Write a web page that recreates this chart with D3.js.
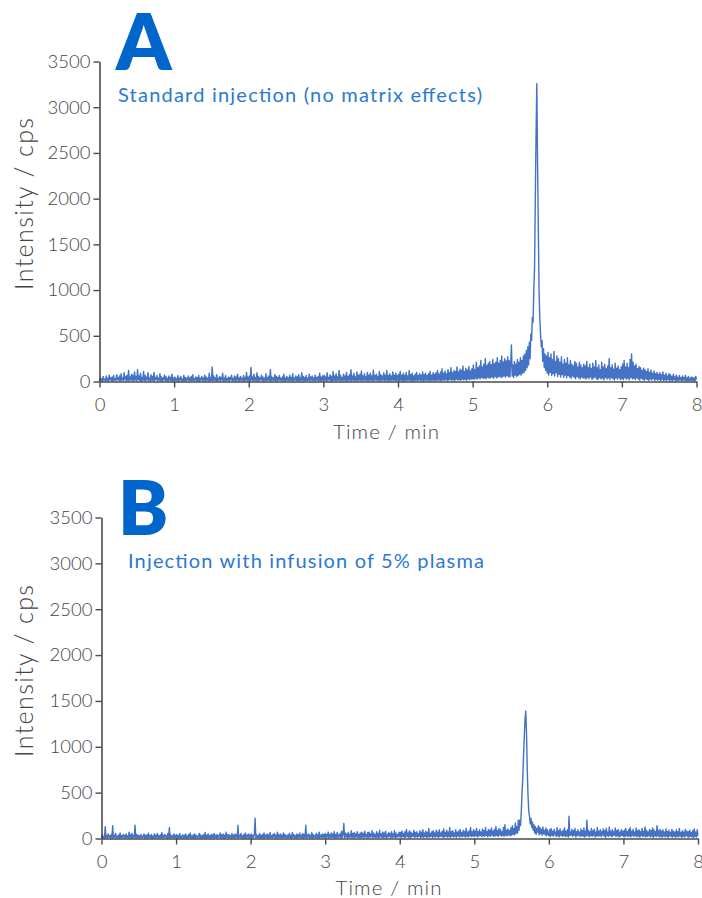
<!DOCTYPE html>
<html>
<head>
<meta charset="utf-8">
<script src="https://cdn.jsdelivr.net/npm/d3@7"></script>
<style>
  body { margin: 0; background: #ffffff; }
  svg text { font-family: "Lato", "Open Sans", sans-serif; }
</style>
</head>
<body>
<svg id="chart" width="702" height="898"></svg>
<script>
// Chromatogram sampling grid (minutes)
const timeStart = 0;
const timeStep = 0.01;

const xTickValues = [0, 1, 2, 3, 4, 5, 6, 7, 8];
const yTickValues = [0, 500, 1000, 1500, 2000, 2500, 3000, 3500];

const panelLetters = ["A", "B"];
const panelCaptions = [
  "Standard injection (no matrix effects)",
  "Injection with infusion of 5% plasma"
];
const xTitle = "Time / min";
const yTitle = "Intensity / cps";

// Intensity (cps), one value every 0.01 min from 0 to 8 min (50 values per row = 0.5 min)
const intensityA = [
  5,45,10,30,0,55,15,25,8,60, 12,35,5,70,18,40,10,50,3,65, 15,30,8,75,20,45,12,60,5,85, 15,40,10,95,20,55,8,70,14,120, 10,50,18,80,6,65,12,105,15,55,
  8,130,20,60,10,90,5,45,15,110, 12,70,6,50,18,95,10,40,4,75, 16,55,8,100,12,45,20,65,6,35, 14,85,10,50,5,40,18,70,9,55, 12,35,6,60,15,45,8,80,11,40,
  5,50,14,30,8,65,3,40,16,55, 10,25,6,70,12,45,4,35,18,60, 9,40,5,55,13,75,7,30,15,50, 5,45,10,65,3,35,17,55,8,40, 12,70,6,50,14,35,9,90,5,45,
  12,160,6,60,15,40,8,75,4,35, 14,55,9,45,16,90,5,40,11,65, 7,30,13,50,6,45,18,70,8,35, 12,60,4,50,15,80,9,40,6,55, 14,35,10,65,5,45,16,100,8,50,
  10,60,5,155,15,50,8,80,12,45, 6,95,14,55,4,40,18,70,9,50, 5,35,13,85,7,45,16,60,10,130, 6,50,15,40,8,75,12,55,5,45, 17,65,9,35,14,50,6,80,11,40,
  7,55,15,40,5,70,12,45,9,85, 4,35,16,60,10,50,6,75,13,40, 8,95,15,55,5,45,11,65,7,35, 14,80,9,50,16,60,6,40,12,70, 8,45,15,55,5,90,10,50,13,60,
  8,70,14,50,6,95,12,45,16,75, 9,55,5,110,13,60,10,85,7,50, 15,120,9,65,12,45,6,80,14,60, 10,100,5,55,17,75,8,130,12,60, 15,90,9,50,13,105,7,70,16,80,
  10,115,14,60,8,85,16,55,11,100, 6,70,15,90,9,60,13,125,7,65, 18,80,10,55,14,110,8,75,12,60, 16,95,9,70,15,120,11,65,7,85, 14,60,10,105,17,70,8,90,13,65,
  12,80,7,110,15,65,10,90,6,70, 14,100,9,60,16,120,11,75,8,90, 13,60,7,80,15,100,10,65,18,85, 9,70,14,105,6,75,12,90,16,65, 8,85,13,110,10,70,15,95,9,80,
  14,95,10,120,18,80,12,105,8,140, 16,90,11,115,20,85,9,130,15,100, 22,150,13,95,18,120,10,110,24,160, 15,105,20,135,12,120,26,170,18,110, 22,145,14,125,28,165,20,115,25,140,
  30,180,22,130,35,210,25,150,40,170, 28,230,45,160,32,190,38,250,30,175, 48,200,35,220,42,185,50,240,36,195, 55,210,40,260,46,200,58,230,44,280, 50,215,60,250,48,225,62,270,52,230,
  50,200,400,60,180,45,220,70,190,55, 240,65,210,80,260,70,230,90,280,100, 300,120,340,150,380,180,430,250,520,450, 700,650,1000,1250,2000,2700,3260,2400,1700,1000, 700,520,380,450,220,360,150,300,120,280,
  90,320,70,260,100,300,65,240,85,330, 60,220,95,280,55,250,80,210,50,270, 75,190,45,240,70,200,40,260,65,180, 50,230,35,190,60,170,45,220,30,200, 55,160,40,210,28,180,50,150,35,190,
  40,170,25,220,45,150,30,190,50,140, 22,200,38,160,48,230,30,150,20,180, 42,130,28,210,35,160,18,190,45,140, 26,170,40,250,20,150,44,180,30,135, 16,200,38,145,25,170,42,130,20,160,
  30,190,20,230,40,160,25,200,35,150, 18,240,45,300,28,210,35,170,22,190, 40,140,26,165,15,150,36,120,24,145, 12,130,30,110,20,140,10,100,28,125, 16,90,32,115,12,85,26,100,14,80,
  22,95,10,75,26,105,8,70,18,90, 12,60,24,85,6,75,16,55,10,80, 20,50,5,70,14,45,8,65,18,40, 6,60,12,45,16,70,4,40,10,55, 7,35,14,50,5,45,10,40,4,55,
  20
];

const intensityB = [
  5,40,10,25,3,130,12,35,6,50, 15,30,4,45,10,140,8,35,14,55, 5,25,12,40,3,60,10,30,7,45, 15,35,4,50,11,28,6,70,13,40, 5,55,9,30,14,145,6,45,10,35,
  4,30,12,45,6,25,15,50,3,35, 10,40,5,60,13,30,7,45,2,25, 11,50,6,35,14,55,4,30,9,40, 5,65,12,35,6,45,15,30,3,55, 10,120,5,40,13,30,7,50,4,35,
  12,45,5,30,9,55,3,25,14,40, 6,35,11,50,4,28,8,45,13,60, 5,30,10,40,3,50,12,35,7,25, 15,55,4,40,9,30,6,45,11,65, 3,35,8,50,12,30,5,45,10,40,
  6,55,13,35,4,45,9,30,15,60, 5,40,11,50,3,35,8,70,12,40, 6,45,14,30,4,55,10,35,7,50, 12,40,5,145,9,35,13,55,6,30, 11,45,4,60,8,35,14,50,5,40,
  9,50,5,35,12,45,220,8,40,14, 30,6,55,11,35,4,45,10,60,7, 35,13,50,5,40,9,65,12,30,6, 45,15,55,4,35,10,70,7,40,13, 50,5,35,11,60,8,45,14,30,6,
  40,12,55,5,35,9,65,13,45,6, 30,11,50,4,40,14,60,8,35,10, 55,5,45,12,145,7,40,15,50,6, 35,10,65,4,45,13,30,8,55,11, 40,5,70,9,35,14,50,6,45,12,
  55,8,45,15,70,6,40,12,60,10, 50,14,75,5,45,11,65,9,40,16, 55,7,80,13,45,165,10,60,15,50, 8,70,12,45,17,85,6,55,14,65, 10,50,18,75,9,45,13,60,7,70,
  15,55,10,80,18,45,8,65,14,70, 12,50,20,85,9,60,16,45,11,75, 14,55,7,90,18,50,12,70,10,60, 16,80,8,45,15,65,20,55,9,75, 13,50,17,85,10,60,14,45,19,70,
  18,65,12,80,20,55,10,75,15,100, 22,60,14,85,9,70,18,55,25,90, 12,65,20,75,16,50,24,85,10,70, 18,95,14,60,22,80,11,65,19,110, 15,55,23,75,12,85,20,60,16,90,
  22,70,14,95,20,60,26,80,12,105, 18,65,24,90,15,70,21,120,13,75, 25,85,17,60,22,95,14,70,28,80, 16,100,23,65,19,90,27,75,15,110, 24,70,18,85,30,120,20,75,26,95,
  22,80,30,110,18,75,26,95,32,70, 20,105,28,85,24,120,34,75,19,100, 30,90,25,115,36,80,22,100,28,130, 34,85,20,110,38,95,26,75,32,120, 24,150,35,90,28,105,40,85,30,115,
  35,140,45,110,40,170,55,130,60,200, 90,200,140,300,500,650,900,1100,1300,1390, 1150,750,480,300,240,160,220,120,180,90, 150,60,130,45,110,70,140,40,120,55, 100,35,125,50,90,40,115,30,95,45,
  30,95,20,110,35,80,25,100,40,70, 22,120,30,85,18,105,36,75,24,90, 32,115,20,80,28,95,16,243,30,70, 38,100,22,85,34,110,18,75,28,95, 36,70,20,105,30,85,24,115,16,80,
  26,200,34,90,18,75,30,110,22,85, 36,100,16,70,28,120,24,80,32,95, 20,75,38,105,26,85,14,110,30,70, 22,125,34,80,18,95,28,75,36,115, 20,85,30,100,16,70,26,95,34,80,
  24,90,18,110,32,75,20,95,28,120, 16,80,34,100,22,70,30,115,18,85, 26,95,14,75,32,110,20,80,28,125, 16,90,24,70,30,100,18,85,26,115, 12,95,28,75,20,140,30,85,16,100,
  22,80,14,95,28,70,18,105,24,75, 12,90,30,65,20,100,16,80,26,70, 14,95,22,75,18,110,28,65,12,85, 24,70,16,100,30,80,20,75,14,90, 26,65,18,85,12,105,22,70,16,95,
  30
];

const panels = [
  { values: intensityA, x0: 99.5, x1: 696.5, yTop: 61.5, yBottom: 381.5,
    letterX: 116, letterY: 70, letterSize: 78,
    captionX: 118, captionY: 102, captionW: 364,
    yTitleY: 204, xTitleX: 386, xTitleY: 439 },
  { values: intensityB, x0: 101.5, x1: 698, yTop: 517.5, yBottom: 838.5,
    letterX: 118, letterY: 535, letterSize: 75,
    captionX: 128, captionY: 568, captionW: 356,
    yTitleY: 671, xTitleX: 388.5, xTitleY: 895 }
];

const axisColor = "#4a4a4a";
const traceColor = "#4472c4";
const letterColor = "#0066cc";
const captionColor = "#2b78d4";

const svg = d3.select("#chart");

panels.forEach((p, i) => {
  const x = d3.scaleLinear().domain([0, 8]).range([p.x0, p.x1]);
  const y = d3.scaleLinear().domain([0, 3500]).range([p.yBottom, p.yTop]);

  const g = svg.append("g");

  // trace
  const line = d3.line()
    .x((d, k) => x(timeStart + k * timeStep))
    .y(d => y(d));
  g.append("path")
    .datum(p.values)
    .attr("fill", "none")
    .attr("stroke", traceColor)
    .attr("stroke-width", 1.4)
    .attr("stroke-linejoin", "round")
    .attr("d", line);

  // axes
  const yAxis = d3.axisLeft(y).tickValues(yTickValues).tickSize(6).tickSizeOuter(0).tickPadding(3)
    .tickFormat(d3.format("d"));
  const xAxis = d3.axisBottom(x).tickValues(xTickValues).tickSize(6).tickSizeOuter(0).tickPadding(10)
    .tickFormat(d3.format("d"));

  const gy = g.append("g").attr("transform", `translate(${p.x0},0)`).call(yAxis);
  const gx = g.append("g").attr("transform", `translate(0,${p.yBottom})`).call(xAxis);

  [gx, gy].forEach(ax => {
    ax.select(".domain").attr("stroke", axisColor).attr("stroke-width", 1.6);
    ax.selectAll(".tick line").attr("stroke", axisColor).attr("stroke-width", 1.4);
    ax.selectAll(".tick text")
      .attr("fill", "#444")
      .style("font-family", "Lato, 'Open Sans', sans-serif")
      .style("font-weight", 300)
      .style("font-size", "18.5px");
  });

  // panel letter
  g.append("text")
    .attr("x", p.letterX).attr("y", p.letterY)
    .attr("fill", letterColor)
    .style("font-weight", 800)
    .style("font-size", p.letterSize + "px")
    .text(panelLetters[i]);

  // caption
  g.append("text")
    .attr("x", p.captionX).attr("y", p.captionY)
    .attr("fill", captionColor)
    .attr("textLength", p.captionW).attr("lengthAdjust", "spacing")
    .style("font-weight", 400)
    .style("font-size", "20px")
    .text(panelCaptions[i]);

  // axis titles
  g.append("text")
    .attr("transform", `translate(33,${p.yTitleY}) rotate(-90)`)
    .attr("text-anchor", "middle")
    .attr("fill", "#444")
    .attr("textLength", 172).attr("lengthAdjust", "spacing")
    .style("font-weight", 300)
    .style("font-size", "25px")
    .text(yTitle);

  g.append("text")
    .attr("x", p.xTitleX).attr("y", p.xTitleY)
    .attr("text-anchor", "middle")
    .attr("fill", "#444")
    .attr("textLength", 106).attr("lengthAdjust", "spacing")
    .style("font-weight", 300)
    .style("font-size", "20.5px")
    .text(xTitle);
});
</script>
</body>
</html>
